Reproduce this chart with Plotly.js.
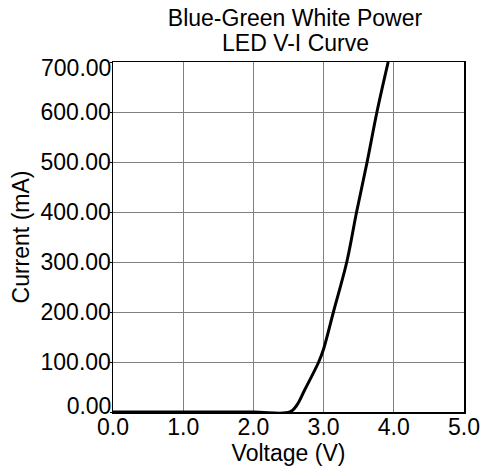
<!DOCTYPE html>
<html>
<head>
<meta charset="utf-8">
<script src="https://cdn.plot.ly/plotly-3.0.1.min.js"></script>
<style>html,body{margin:0;padding:0;background:#fff;}#chart{width:483px;height:468px;}</style>
</head>
<body>
<div id="chart"></div>
<script>
const voltage = [0, 1, 2, 2.52, 2.62, 2.73, 2.93, 3.0, 3.14, 3.33, 3.47, 3.62, 3.76, 3.92];
const current = [0, 0, 0, 0, 14, 44, 100, 126, 200, 300, 400, 500, 600, 700];
const xTicks = [0, 1, 2, 3, 4, 5];
const yTicksMid = [100, 200, 300, 400, 500, 600];
const yTickBottom = [0];
const yTickTop = [700];
const titleLine1 = 'Blue-Green White Power';
const titleLine2 = 'LED V-I Curve';
const xTitle = 'Voltage (V)';
const yTitle = 'Current (mA)';

const font = 'Liberation Sans, Arial, sans-serif';
const FS = 23;
const tf = {family: font, size: FS, color: '#000'};
const traces = [
  {x: voltage, y: current, type: 'scatter', mode: 'lines',
   line: {color: '#000', width: 3, shape: 'spline', smoothing: 1}, hoverinfo: 'skip'},
  {x: [], y: [], type: 'scatter', mode: 'lines', yaxis: 'y2', hoverinfo: 'skip'},
  {x: [], y: [], type: 'scatter', mode: 'lines', yaxis: 'y3', hoverinfo: 'skip'}
];
const yCommon = {
  range: [0, 700], tickformat: '.2f', autorange: false,
  zeroline: false, ticks: 'outside', ticklen: 2, tickcolor: '#000',
  ticklabelstandoff: -6, tickfont: tf
};
const layout = {
  width: 483, height: 468,
  margin: {l: 113, r: 19, t: 62, b: 56},
  paper_bgcolor: '#fff', plot_bgcolor: '#fff',
  showlegend: false,
  font: tf,
  title: {text: titleLine1, font: tf,
          x: 295/483, xref: 'container', xanchor: 'center',
          y: 1 - 18.4/468, yref: 'container', yanchor: 'middle'},
  annotations: [{
    text: titleLine2, showarrow: false, xref: 'paper', yref: 'paper',
    x: (295 - 113)/351, y: 1 + 18.6/350, xanchor: 'center', yanchor: 'middle',
    font: tf, borderpad: 0
  }],
  xaxis: {
    range: [0, 5], tickvals: xTicks, tickformat: '.1f',
    showgrid: true, gridcolor: '#808080', gridwidth: 1,
    zeroline: false, showline: true, linecolor: '#000', linewidth: 1.5, mirror: true,
    ticks: '', ticklabelstandoff: -6, tickfont: tf,
    title: {text: xTitle, font: tf, standoff: 0}
  },
  yaxis: Object.assign({}, yCommon, {
    tickvals: yTicksMid,
    showgrid: true, gridcolor: '#808080', gridwidth: 1,
    showline: true, linecolor: '#000', linewidth: 1.5, mirror: true,
    title: {text: yTitle, font: tf, standoff: 4}
  }),
  yaxis2: Object.assign({}, yCommon, {
    overlaying: 'y', side: 'left', tickvals: yTickBottom,
    showgrid: false, showline: false, ticklabelshift: -6
  }),
  yaxis3: Object.assign({}, yCommon, {
    overlaying: 'y', side: 'left', tickvals: yTickTop,
    showgrid: false, showline: false, ticklabelshift: 6
  })
};
Plotly.newPlot('chart', traces, layout, {displayModeBar: false, staticPlot: true});
</script>
</body>
</html>
